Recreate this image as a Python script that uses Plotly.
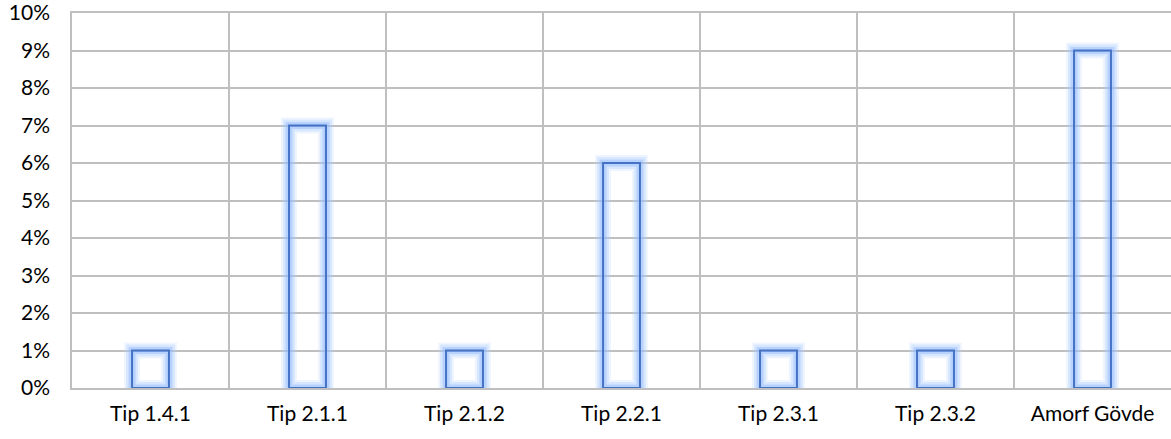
import plotly.graph_objects as go

categories = ["Tip 1.4.1", "Tip 2.1.1", "Tip 2.1.2", "Tip 2.2.1", "Tip 2.3.1", "Tip 2.3.2", "Amorf Gövde"]
values = [0.01, 0.07, 0.01, 0.06, 0.01, 0.01, 0.09]

fig = go.Figure()
glows = [(16, "rgba(180,210,255,0.22)"), (12, "rgba(160,198,255,0.3)"), (7, "rgba(135,180,252,0.4)")]
for w, c in glows:
    fig.add_trace(go.Bar(x=categories, y=values, width=0.235,
                         marker=dict(color="rgba(0,0,0,0)", line=dict(width=w, color=c)),
                         hoverinfo="skip", showlegend=False))
fig.add_trace(go.Bar(x=categories, y=values, width=0.235,
                     marker=dict(color="rgba(0,0,0,0)", line=dict(width=2, color="#4472C4")),
                     showlegend=False))

fig.update_layout(
    width=1171, height=439,
    margin=dict(l=72, r=0, t=13, b=51, autoexpand=False),
    barmode="overlay",
    plot_bgcolor="white", paper_bgcolor="white",
    font=dict(family="Lato, Carlito, Calibri, sans-serif", size=21, color="#000000"),
)
fig.update_xaxes(type="category", tickson="boundaries", showgrid=True, gridcolor="#BFBFBF", gridwidth=1.5,
                 ticks="", ticklabelstandoff=6, showline=True, mirror=True, linecolor="#BFBFBF",
                 linewidth=1.5, zeroline=False, automargin=False)
fig.update_yaxes(range=[0, 0.1], dtick=0.01, tickformat=".0%", showgrid=True, gridcolor="#BFBFBF",
                 gridwidth=1.5, zeroline=False, ticks="", ticklabelstandoff=16, ticklabeloverflow="allow",
                 showline=True, linecolor="#BFBFBF", linewidth=1.5, automargin=False)
fig.write_html("out.html", config={"displayModeBar": False},
               post_script="document.body.style.margin='0';document.body.style.overflow='hidden';")
